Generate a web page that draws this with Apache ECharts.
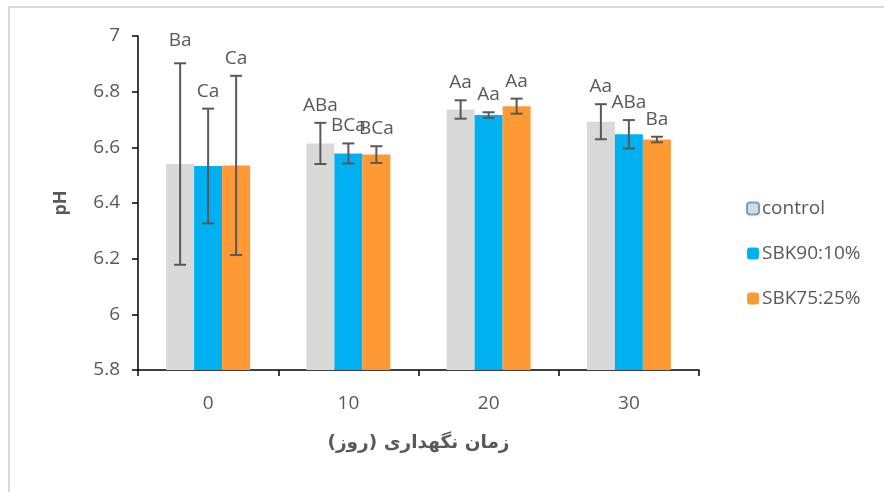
<!DOCTYPE html>
<html>
<head>
<meta charset="utf-8">
<script src="https://cdn.jsdelivr.net/npm/echarts@6/dist/echarts.min.js"></script>
<style>
html,body{margin:0;padding:0;background:#fff;}
#chart{width:884px;height:492px;}
</style>
</head>
<body>
<div id="chart"></div>
<script>
const categories = ['0', '10', '20', '30'];
const seriesNames = ['control', 'SBK90:10%', 'SBK75:25%'];
const controlMean = [6.540, 6.614, 6.736, 6.692];
const controlErr = [0.362, 0.074, 0.033, 0.063];
const sbk90Mean = [6.533, 6.578, 6.716, 6.647];
const sbk90Err = [0.206, 0.036, 0.010, 0.051];
const sbk75Mean = [6.535, 6.574, 6.748, 6.628];
const sbk75Err = [0.322, 0.030, 0.027, 0.010];
const controlLabels = ['Ba', 'ABa', 'Aa', 'Aa'];
const sbk90Labels = ['Ca', 'BCa', 'Aa', 'ABa'];
const sbk75Labels = ['Ca', 'BCa', 'Aa', 'Ba'];
const yTicks = [5.8, 6, 6.2, 6.4, 6.6, 6.8, 7];

const means = [controlMean, sbk90Mean, sbk75Mean];
const errs = [controlErr, sbk90Err, sbk75Err];
const labels = [controlLabels, sbk90Labels, sbk75Labels];
const colors = ['#d9d9d9', '#00b0f0', '#ff9933'];
const BAR_W = 28;
const FONT = '"Open Sans", "DejaVu Sans", sans-serif';
const TXT = '#595959';

const chart = echarts.init(document.getElementById('chart'), null, {renderer: 'canvas'});

const barSeries = seriesNames.map((name, s) => ({
  name: name,
  type: 'bar',
  data: means[s],
  barWidth: BAR_W,
  barGap: '0%',
  itemStyle: {color: colors[s]},
  emphasis: {disabled: true},
  z: 2
}));

const errSeries = seriesNames.map((name, s) => ({
  name: name + '_err',
  type: 'custom',
  data: means[s].map((m, i) => [i, m, errs[s][i]]),
  z: 5,
  silent: true,
  renderItem: function (params, api) {
    const i = api.value(0);
    const m = api.value(1);
    const e = api.value(2);
    const off = (s - 1) * BAR_W;
    const top = api.coord([i, m + e]);
    const bot = api.coord([i, m - e]);
    const x = top[0] + off;
    const cap = 6;
    const st = {stroke: '#595959', lineWidth: 2};
    const lift = (s === 0 && params.dataIndex === 0) ? 13 : 8;
    return {
      type: 'group',
      children: [
        {type: 'line', shape: {x1: x, y1: top[1], x2: x, y2: bot[1]}, style: st},
        {type: 'line', shape: {x1: x - cap, y1: top[1], x2: x + cap, y2: top[1]}, style: st},
        {type: 'line', shape: {x1: x - cap, y1: bot[1], x2: x + cap, y2: bot[1]}, style: st},
        {type: 'text', x: x, y: top[1] - lift, style: {
          text: labels[s][params.dataIndex], fill: TXT, font: '19px ' + FONT,
          align: 'center', verticalAlign: 'bottom'
        }}
      ]
    };
  }
}));

const option = {
  animation: false,
  backgroundColor: '#ffffff',
  grid: {left: 138, right: 185, top: 36, bottom: 122, containLabel: false},
  graphic: [
    {type: 'line', shape: {x1: 8, y1: 7, x2: 884, y2: 7}, style: {stroke: '#d9d9d9', lineWidth: 2}},
    {type: 'line', shape: {x1: 9, y1: 7, x2: 9, y2: 492}, style: {stroke: '#d9d9d9', lineWidth: 2}}
  ],
  legend: {
    orient: 'vertical',
    left: 741,
    top: 194,
    itemWidth: 12,
    itemHeight: 12,
    itemGap: 26,
    data: [
      {name: 'control', itemStyle: {color: '#d9d9d9', borderColor: '#6f9fd8', borderWidth: 2}},
      {name: 'SBK90:10%'},
      {name: 'SBK75:25%'}
    ],
    textStyle: {color: TXT, fontSize: 19, fontFamily: FONT, padding: [0, 0, 0, -2]},
    selectedMode: false
  },
  xAxis: {
    type: 'category',
    data: categories,
    axisLine: {lineStyle: {color: '#000', width: 1.5}},
    axisTick: {show: true, length: 6, lineStyle: {color: '#000', width: 1.5}},
    axisLabel: {color: TXT, fontSize: 19, fontFamily: FONT, margin: 24},
    name: 'زمان نگهداری (روز)',
    nameLocation: 'middle',
    nameGap: 64,
    nameTextStyle: {color: TXT, fontSize: 18.5, fontWeight: 'bold', fontFamily: '"DejaVu Sans", sans-serif'}
  },
  yAxis: {
    type: 'value',
    min: yTicks[0],
    max: yTicks[yTicks.length - 1],
    interval: 0.2,
    splitLine: {show: false},
    axisLine: {show: true, lineStyle: {color: '#000', width: 1.5}},
    axisTick: {show: true, length: 6, lineStyle: {color: '#000', width: 1.5}},
    axisLabel: {color: TXT, fontSize: 19, fontFamily: FONT, margin: 18,
      formatter: v => String(Math.round(v * 10) / 10)},
    name: 'pH',
    nameLocation: 'middle',
    nameGap: 68,
    nameRotate: 90,
    nameTextStyle: {color: TXT, fontSize: 18, fontWeight: 'bold', fontFamily: FONT}
  },
  series: barSeries.concat(errSeries)
};
chart.setOption(option);
</script>
</body>
</html>
